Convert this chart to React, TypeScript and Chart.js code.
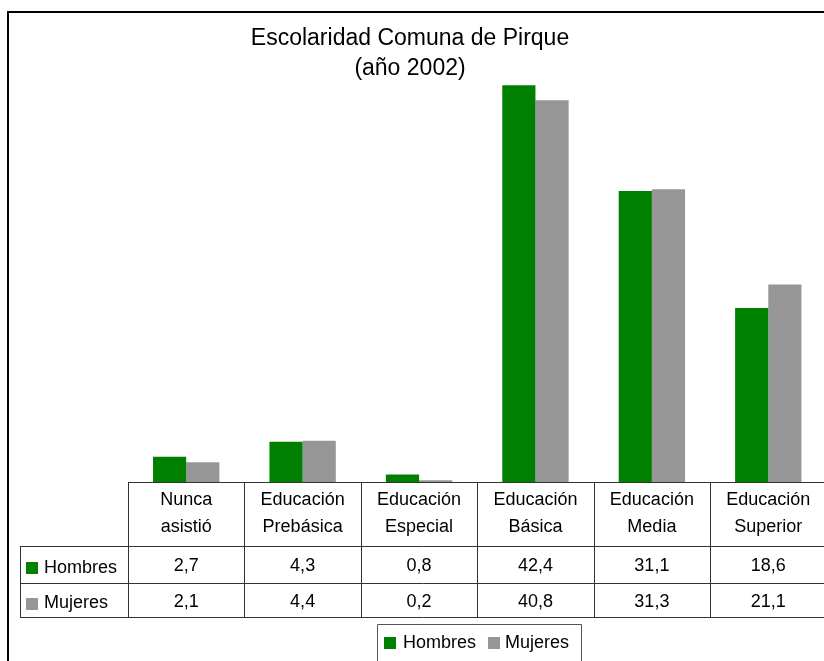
import React, { useEffect, useRef } from "react";
import Chart from "chart.js/auto";

const categories: string[][] = [
  ["Nunca", "asistió"],
  ["Educación", "Prebásica"],
  ["Educación", "Especial"],
  ["Educación", "Básica"],
  ["Educación", "Media"],
  ["Educación", "Superior"],
];
const hombres = [2.7, 4.3, 0.8, 42.4, 31.1, 18.6];
const mujeres = [2.1, 4.4, 0.2, 40.8, 31.3, 21.1];
const hombresLabels = ["2,7", "4,3", "0,8", "42,4", "31,1", "18,6"];
const mujeresLabels = ["2,1", "4,4", "0,2", "40,8", "31,3", "21,1"];
const seriesNames = ["Hombres", "Mujeres"];
const titleLines = ["Escolaridad Comuna de Pirque", "(año 2002)"];

const GREEN = "#008000";
const GRAY = "#969696";
const FONT = "'Liberation Sans', Arial, sans-serif";

const decorPlugin = {
  id: "decor",
  afterDraw(chart: any) {
    const ctx = chart.ctx as CanvasRenderingContext2D;
    const xs = chart.scales.x;
    const area = chart.chartArea;
    const n = categories.length;
    const catW = (area.right - area.left) / n;
    const base = area.bottom;
    ctx.save();

    // outer border
    ctx.strokeStyle = "#000";
    ctx.lineWidth = 2;
    ctx.beginPath();
    ctx.moveTo(8, 700);
    ctx.lineTo(8, 12);
    ctx.lineTo(900, 12);
    ctx.stroke();

    // title
    ctx.fillStyle = "#000";
    ctx.font = `23px ${FONT}`;
    ctx.textAlign = "center";
    ctx.textBaseline = "alphabetic";
    ctx.fillText(titleLines[0], 410, 45);
    ctx.fillText(titleLines[1], 410, 75);

    // data table
    const row1 = base + 64;
    const row2 = row1 + 37;
    const row3 = row2 + 34;
    const tableLeft = 20;
    const right = area.right;
    ctx.strokeStyle = "#333";
    ctx.lineWidth = 1;
    ctx.beginPath();
    ctx.moveTo(area.left, base + 0.5);
    ctx.lineTo(right, base + 0.5);
    [row1, row2, row3].forEach((y) => {
      ctx.moveTo(tableLeft, y + 0.5);
      ctx.lineTo(right, y + 0.5);
    });
    ctx.moveTo(tableLeft + 0.5, row1);
    ctx.lineTo(tableLeft + 0.5, row3);
    for (let i = 0; i <= n; i++) {
      const x = Math.round(xs.getPixelForValue(i) - catW / 2) + 0.5;
      ctx.moveTo(x, base);
      ctx.lineTo(x, row3);
    }
    ctx.stroke();

    ctx.font = `18px ${FONT}`;
    ctx.fillStyle = "#000";
    ctx.textAlign = "center";
    for (let i = 0; i < n; i++) {
      const cx = xs.getPixelForValue(i);
      ctx.fillText(categories[i][0], cx, base + 23);
      ctx.fillText(categories[i][1], cx, base + 50);
      ctx.fillText(hombresLabels[i], cx, row1 + 25);
      ctx.fillText(mujeresLabels[i], cx, row2 + 24);
    }
    // row legends
    ctx.textAlign = "left";
    ctx.fillStyle = GREEN;
    ctx.fillRect(26, row1 + 16, 12, 12);
    ctx.fillStyle = GRAY;
    ctx.fillRect(26, row2 + 15, 12, 12);
    ctx.fillStyle = "#000";
    ctx.fillText(seriesNames[0], 44, row1 + 27);
    ctx.fillText(seriesNames[1], 44, row2 + 25);

    // bottom legend box
    ctx.strokeStyle = "#555";
    ctx.beginPath();
    ctx.moveTo(377.5, 700);
    ctx.lineTo(377.5, 624.5);
    ctx.lineTo(581.5, 624.5);
    ctx.lineTo(581.5, 700);
    ctx.stroke();
    ctx.fillStyle = GREEN;
    ctx.fillRect(384, 637, 12, 12);
    ctx.fillStyle = GRAY;
    ctx.fillRect(488, 637, 12, 12);
    ctx.fillStyle = "#000";
    ctx.fillText(seriesNames[0], 403, 648);
    ctx.fillText(seriesNames[1], 505, 648);

    ctx.restore();
  },
};

export default function App() {
  const ref = useRef<HTMLCanvasElement>(null);
  useEffect(() => {
    if (!ref.current) return;
    const chart = new Chart(ref.current, {
      type: "bar",
      data: {
        labels: categories.map((c) => c.join(" ")),
        datasets: [
          {
            label: seriesNames[0],
            data: hombres,
            backgroundColor: GREEN,
            borderWidth: 0,
            barPercentage: 1,
            categoryPercentage: 0.57,
          },
          {
            label: seriesNames[1],
            data: mujeres,
            backgroundColor: GRAY,
            borderWidth: 0,
            barPercentage: 1,
            categoryPercentage: 0.57,
          },
        ],
      },
      options: {
        responsive: false,
        animation: false,
        layout: { padding: { left: 128, right: 1.5, top: 61, bottom: 179 } },
        scales: {
          x: { display: false, grid: { display: false } },
          y: { display: false, min: 0, max: 45, grid: { display: false } },
        },
        plugins: {
          legend: { display: false },
          title: { display: false },
          tooltip: { enabled: false },
        },
      },
      plugins: [decorPlugin],
    });
    return () => chart.destroy();
  }, []);
  return (
    <div
      style={{
        position: "fixed",
        left: 0,
        top: 0,
        width: 824,
        height: 661,
        overflow: "hidden",
        background: "#fff",
      }}
    >
      <canvas ref={ref} width={828} height={661} style={{ display: "block" }} />
    </div>
  );
}
